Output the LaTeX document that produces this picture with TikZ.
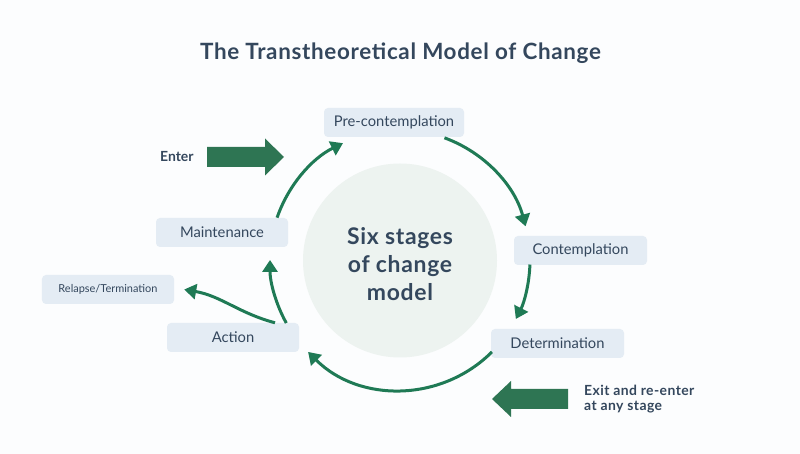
\documentclass[tikz,border=0pt]{standalone}
\usepackage{fontspec}
\setmainfont{Lato}
\newfontfamily\widebold{Lato}[LetterSpace=3,BoldFont={* Bold}]
\usetikzlibrary{arrows.meta}
\definecolor{ink}{RGB}{52,71,93}
\definecolor{stagebg}{RGB}{228,236,244}
\definecolor{ringgreen}{RGB}{31,122,85}
\definecolor{bulkgreen}{RGB}{46,117,83}
\definecolor{hubfill}{RGB}{237,243,240}
\definecolor{paper}{RGB}{252,253,254}

\begin{document}
\begin{tikzpicture}[x=1bp,y=1bp,every node/.style={text=ink,inner sep=0pt},
        stage/.style={fill=stagebg,rounded corners=4bp,minimum width=132bp,
          minimum height=29bp,font=\fontsize{14.8}{17}\selectfont},
        flow/.style={draw=ringgreen,line width=3bp,->},
        >={Triangle[length=12bp,width=15bp]}]
       \fill[paper](0,0)rectangle(800,454);
       \node[anchor=base,font=\widebold\bfseries\fontsize{22.5}{26}\selectfont](title)at(400.5,394){The Transtheoretical Model of Change};
       \coordinate(hub)at(400,194);
       \node[circle,fill=hubfill,minimum size=194bp](core)at(400,193.5){};
       \node[align=center,font=\widebold\bfseries\fontsize{23}{28}\selectfont](corelabel)at(400,190){Six stages\\of change\\model};
       \node[stage,minimum width=140bp](pre)at(394,331.5){Pre-contemplation};
       \node[stage,minimum width=133bp](con)at(580.5,203.5){Contemplation};
       \node[stage,minimum width=133bp](det)at(557.5,110.5){Determination};
       \node[stage](act)at(233,116.5){Action};
       \node[stage](mnt)at(222,221.5){Maintenance};
       \node[stage,font=\fontsize{11}{13}\selectfont](rel)at(108,164.5){Relapse/Termination};
       \draw[flow](hub)++(161:130)arc[start angle=161,end angle=116,radius=130];
       \draw[flow](hub)++(70:130)arc[start angle=70,end angle=15,radius=130];
       \draw[flow](hub)++(-2:130)arc[start angle=-2,end angle=-27,radius=130];
       \draw[flow](hub)++(-45:130)arc[start angle=-45,end angle=-135,radius=130];
       \draw[flow](hub)++(-151:130)arc[start angle=-151,end angle=-180,radius=130];
       \draw[flow]([xshift=42bp]act.north)to[out=165,in=-10]([xshift=10bp]rel.east);
       \node[anchor=west,font=\bfseries\fontsize{14}{16}\selectfont](enter)at(160,297){Enter};
       \fill[bulkgreen](207,307)--(265,307)--(265,315.5)--(284,297)--(265,278.5)--(265,287)--(207,287)--cycle;
       \node[anchor=west,align=left,font=\widebold\bfseries\fontsize{14}{15}\selectfont](exit)at(584,54.5){Exit and re-enter\\at any stage};
       \fill[bulkgreen](568,65)--(511,65)--(511,73)--(492,55)--(511,37)--(511,45)--(568,45)--cycle;
    \end{tikzpicture}
\end{document}
